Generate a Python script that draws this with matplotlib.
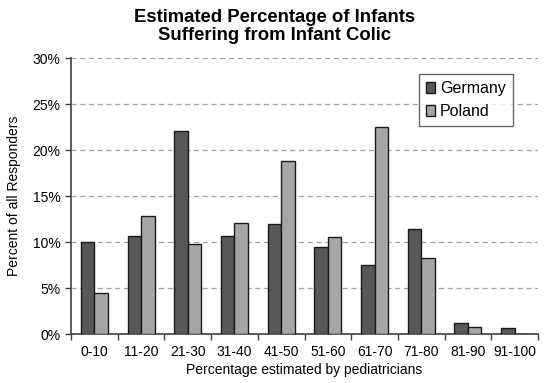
import matplotlib
matplotlib.use("Agg")
import matplotlib.pyplot as plt
import numpy as np
from matplotlib.ticker import FuncFormatter, FixedLocator

categories = ["0-10", "11-20", "21-30", "31-40", "41-50", "51-60", "61-70", "71-80", "81-90", "91-100"]
germany = [10.0, 10.7, 22.1, 10.7, 11.95, 9.5, 7.5, 11.4, 1.2, 0.65]
poland = [4.5, 12.8, 9.75, 12.05, 18.8, 10.5, 22.5, 8.3, 0.75, 0.0]
yticks = [0, 5, 10, 15, 20, 25, 30]

plt.rcParams['font.family'] = ['Liberation Sans', 'DejaVu Sans']

fig = plt.figure(figsize=(5.5, 3.83), dpi=100)
ax = fig.add_axes([71/550, 1-334/383, (538-71)/550, (334-58)/383])

x = np.arange(len(categories))
w = 0.29
ax.bar(x - w/2, germany, w, color="#585858", edgecolor="#1a1a1a", linewidth=1.0, label="Germany", zorder=3)
ax.bar(x + w/2, poland, w, color="#a6a6a6", edgecolor="#1a1a1a", linewidth=1.0, label="Poland", zorder=3)

ax.set_xlim(-0.5, len(categories) - 0.5)
ax.set_ylim(0, 30)
ax.set_yticks(yticks)
ax.yaxis.set_major_formatter(FuncFormatter(lambda v, p: f"{int(v)}%"))
ax.yaxis.grid(True, linestyle=(0, (4, 3)), color="#a0a0a0", linewidth=0.9, zorder=0)
ax.set_axisbelow(True)

ax.set_xticks(x)
ax.set_xticklabels(categories, fontsize=10)
ax.xaxis.set_minor_locator(FixedLocator(np.arange(-0.5, len(categories), 1.0)))
ax.tick_params(axis='x', which='major', length=0, pad=8)
ax.tick_params(axis='x', which='minor', length=4, width=1.0, color="#404040", direction='out')
ax.tick_params(axis='y', length=4, width=1.0, color="#404040", direction='out', labelsize=10)

for s in ['top', 'right']:
    ax.spines[s].set_visible(False)
for s in ['left', 'bottom']:
    ax.spines[s].set_color("#404040")
    ax.spines[s].set_linewidth(1.2)

ax.set_xlabel("Percentage estimated by pediatricians", fontsize=10, labelpad=3)
ax.set_ylabel("Percent of all Responders", fontsize=10, labelpad=8)
fig.text(0.5, 1 - 9/383, "Estimated Percentage of Infants\nSuffering from Infant Colic",
         ha='center', va='top', fontsize=13.3, fontweight='bold', linespacing=1.1)

leg = ax.legend(loc='upper right', bbox_to_anchor=((513-71)/467, (334-74)/276), borderaxespad=0,
                fontsize=11.5, frameon=True,
                fancybox=False, edgecolor="#404040", handlelength=0.6, handleheight=0.6,
                handletextpad=0.3, borderpad=0.45, labelspacing=0.5)
leg.get_frame().set_linewidth(1.0)

fig.savefig("out.png", dpi=100)
